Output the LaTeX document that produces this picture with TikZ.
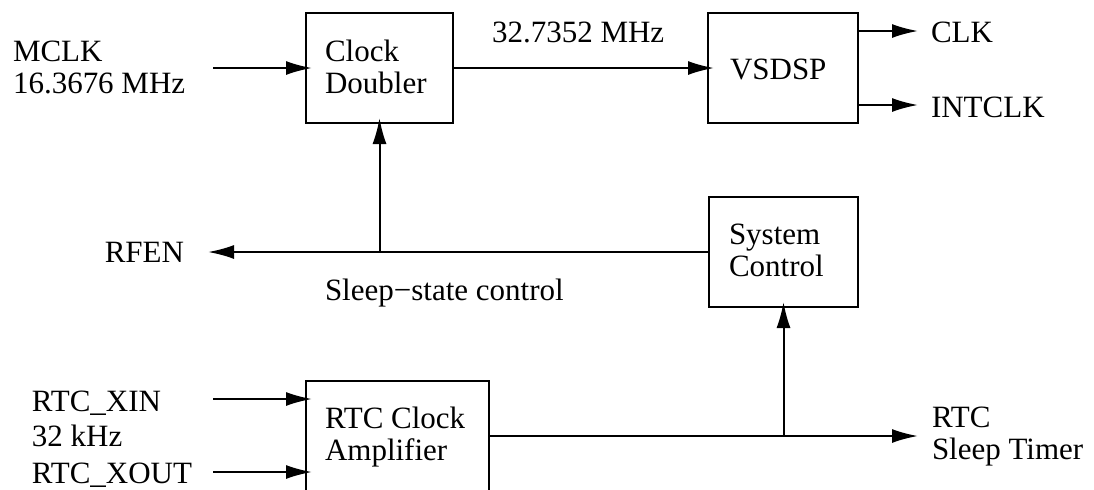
\documentclass[tikz,border=0pt]{standalone}
\usepackage{fontspec}
\setmainfont{Liberation Serif}
\usetikzlibrary{arrows.meta}
\begin{document}
\begin{tikzpicture}[x=0.5pt,y=-0.5pt,
  every node/.style={font=\fontsize{15.5pt}{16pt}\selectfont, inner sep=0pt, outer sep=0pt},
  blk/.style={draw, line width=1pt, inner sep=0pt},
  lbl/.style={align=left},
  arr/.style={line width=1pt, -{Latex[length=13pt,width=7pt]}}]
\useasboundingbox (0,0) rectangle (1094,489);
\clip (0,0) rectangle (1094,489);
% blocks
\node[blk, minimum width=73.5pt, minimum height=55pt] (cd) at (379.5,68) {};
\node[lbl, anchor=west] (cdt) at (325,67) {Clock\\Doubler};
\node[blk, minimum width=75pt, minimum height=55pt] (vs) at (783,68) {};
\node[anchor=west] (vst) at (730,69) {VSDSP};
\node[blk, minimum width=74.5pt, minimum height=55pt] (sc) at (783.5,252) {};
\node[lbl, anchor=west] (sct) at (729,250) {System\\Control};
\node[blk, minimum width=91.5pt, minimum height=60pt] (rca) at (397.5,441) {};
\node[lbl, anchor=west] (rcat) at (325,437) {RTC Clock\\Amplifier};
% labels
\node[lbl, anchor=west] (mclk) at (13,67) {MCLK\\16.3676 MHz};
\node[anchor=base west] (f2) at (492,42) {32.7352 MHz};
\node[anchor=base west] (clk) at (931,42) {CLK};
\node[anchor=base west] (intclk) at (931,117) {INTCLK};
\node[anchor=base east] (rfen) at (184,262) {RFEN};
\node[anchor=base west] (ssc) at (325,300) {Sleep−state control};
\node[anchor=base west] (xin) at (32,411) {RTC\_XIN};
\node[anchor=base west] (khz) at (32,446) {32 kHz};
\node[anchor=base west] (xout) at (32,483) {RTC\_XOUT};
\node[lbl, anchor=west] (rtc) at (932,437) {RTC\\Sleep Timer};
% free ends
\coordinate (mclkin) at (213,68);
\coordinate (clkend) at (918,31);
\coordinate (intend) at (918,105);
\coordinate (rfenend) at (208,252);
\coordinate (xinin) at (213,399);
\coordinate (xoutin) at (213,472);
\coordinate (rtcend) at (918,436);
% connectors
\draw[arr, shorten >=-3pt] (mclkin) -- (cd.west |- mclkin);
\draw[arr, shorten >=-3pt] (cd.east) -- (vs.west);
\draw[arr] (vs.east |- clkend) -- (clkend);
\draw[arr] (vs.east |- intend) -- (intend);
\draw[arr] (sc.west) -- (rfenend);
\draw[arr, shorten >=-2.5pt] (cd.south |- sc.west) -- (cd.south);
\draw[arr, shorten >=-3pt] (xinin) -- (rca.west |- xinin);
\draw[arr, shorten >=-3pt] (xoutin) -- (rca.west |- xoutin);
\draw[arr] (rca.east |- rtcend) -- (rtcend);
\draw[arr, shorten >=-2.5pt] (sc.south |- rtcend) -- (sc.south);
\end{tikzpicture}
\end{document}
